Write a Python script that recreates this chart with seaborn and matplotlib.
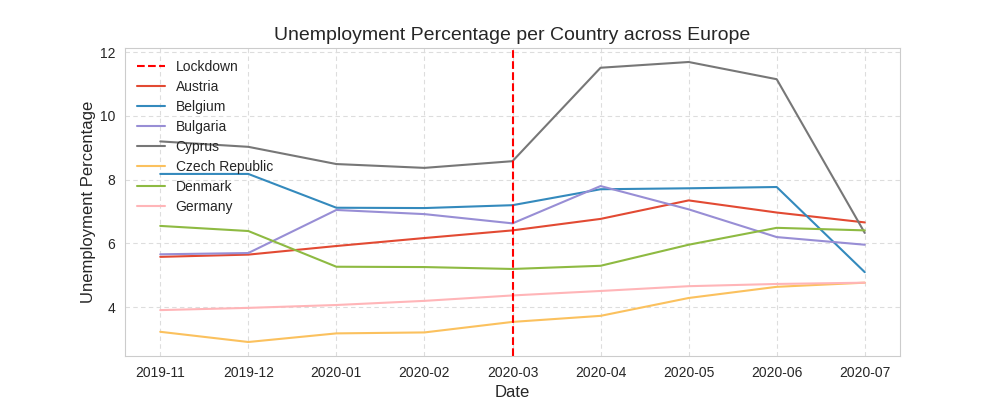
import pandas as pd
import matplotlib
matplotlib.use("Agg")
import matplotlib.pyplot as plt
import seaborn as sns

# ----------------------------
# Data
# ----------------------------
dates = ["2019-11", "2019-12", "2020-01", "2020-02", "2020-03",
         "2020-04", "2020-05", "2020-06", "2020-07"]

austria = [5.58, 5.65, 5.92, 6.17, 6.41, 6.77, 7.35, 6.97, 6.66]
belgium = [8.18, 8.18, 7.12, 7.11, 7.20, 7.70, 7.73, 7.77, 5.10]
bulgaria = [5.66, 5.70, 7.05, 6.92, 6.63, 7.80, 7.07, 6.20, 5.96]
cyprus = [9.20, 9.03, 8.49, 8.37, 8.58, 11.51, 11.69, 11.15, 6.33]
czech = [3.23, 2.91, 3.18, 3.21, 3.54, 3.73, 4.29, 4.64, 4.77]
denmark = [6.55, 6.39, 5.27, 5.26, 5.20, 5.30, 5.96, 6.49, 6.41]
germany = [3.91, 3.98, 4.07, 4.20, 4.37, 4.51, 4.66, 4.73, 4.77]

countries = ["Austria", "Belgium", "Bulgaria", "Cyprus",
             "Czech Republic", "Denmark", "Germany"]
series = [austria, belgium, bulgaria, cyprus, czech, denmark, germany]
colors = ["#E24A33", "#348ABD", "#988ED5", "#777777",
          "#FBC15E", "#8EBA42", "#FFB5B8"]

lockdown = "2020-03"

# long-form table for seaborn
rows = []
for name, vals in zip(countries, series):
    for d, v in zip(dates, vals):
        rows.append({"Date": d, "Country": name, "Unemployment": v})
df = pd.DataFrame(rows)

# ----------------------------
# Plot
# ----------------------------
sns.set_style("whitegrid", {"grid.linestyle": (0, (4, 3)),
                            "grid.color": "#dddddd",
                            "axes.edgecolor": "#cccccc"})
plt.rcParams["font.family"] = ["Liberation Sans", "DejaVu Sans"]
plt.rcParams["grid.linewidth"] = 0.8

fig, ax = plt.subplots(figsize=(10, 4), dpi=100)

sns.lineplot(data=df, x="Date", y="Unemployment", hue="Country",
             palette=dict(zip(countries, colors)), linewidth=1.5, ax=ax)

ax.axvline(dates.index(lockdown), color="red", linestyle="--",
           linewidth=1.5, label="Lockdown")

# put Lockdown first in the legend
handles, labels = ax.get_legend_handles_labels()
order = [labels.index("Lockdown")] + [labels.index(c) for c in countries]
ax.legend([handles[i] for i in order], [labels[i] for i in order],
          loc="upper left", frameon=False, fontsize=10,
          labelspacing=0.43, borderaxespad=0.45)

ax.set_title("Unemployment Percentage per Country across Europe", fontsize=14)
ax.set_xlabel("Date", fontsize=12)
ax.set_ylabel("Unemployment Percentage", fontsize=12, labelpad=3)
ax.set_yticks([4, 6, 8, 10, 12])

plt.savefig("out.png")
plt.close()
